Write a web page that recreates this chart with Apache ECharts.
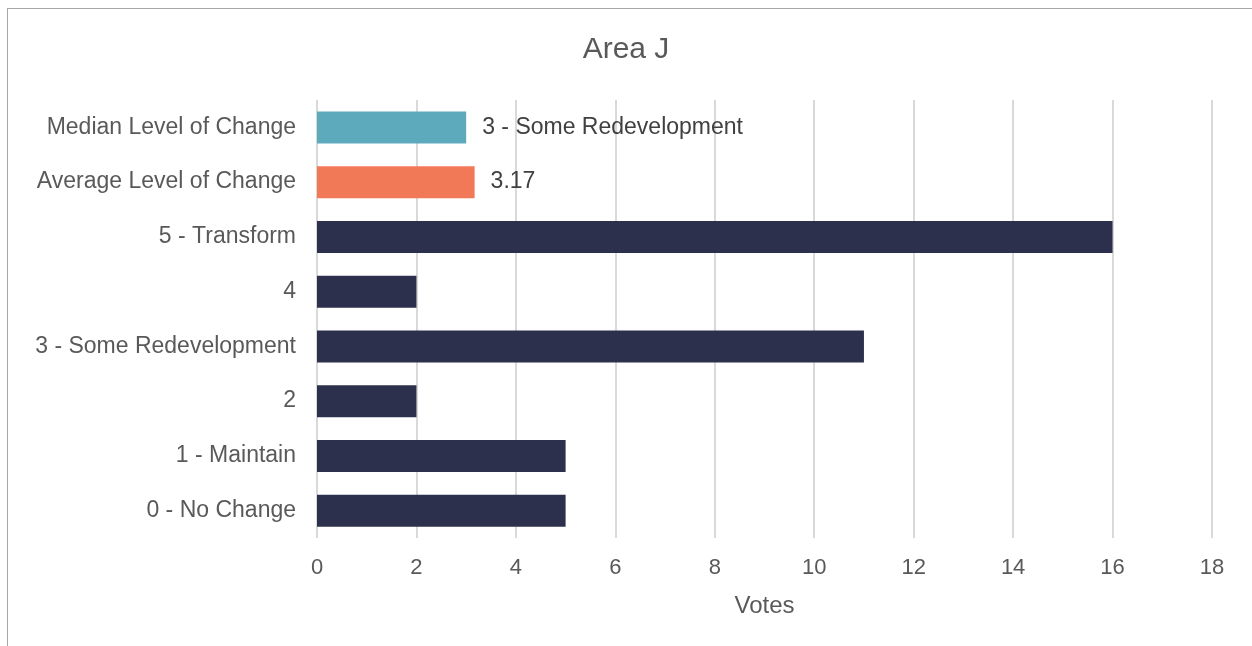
<!DOCTYPE html>
<html>
<head>
<meta charset="utf-8">
<title>Area J</title>
<script src="https://cdn.jsdelivr.net/npm/echarts@6/dist/echarts.min.js"></script>
<style>
  html, body { margin: 0; padding: 0; background: #fff; overflow: hidden; }
  #frame {
    position: absolute; left: 7px; top: 8px; width: 1270px; height: 670px;
    border: 1px solid #a6a6a6; box-sizing: border-box;
  }
  #chart { position: absolute; left: 0; top: 0; width: 1252px; height: 646px; }
</style>
</head>
<body>
<div id="frame"></div>
<div id="chart"></div>
<script>
// categories listed top to bottom
const categories = [
  "Median Level of Change",
  "Average Level of Change",
  "5 - Transform",
  "4",
  "3 - Some Redevelopment",
  "2",
  "1 - Maintain",
  "0 - No Change"
];
const votes = [3, 3.17, 16, 2, 11, 2, 5, 5];
const barLabels = ["3 - Some Redevelopment", "3.17", "", "", "", "", "", ""];
const barColors = ["#5eaabd", "#f27957", "#2c304d", "#2c304d", "#2c304d", "#2c304d", "#2c304d", "#2c304d"];

const FONT = "Liberation Sans, Arial, sans-serif";
const TEXT = "#595959";

const chart = echarts.init(document.getElementById("chart"), null, { renderer: "canvas" });

chart.setOption({
  animation: false,
  title: {
    text: "Area J",
    left: "center",
    top: 30,
    textStyle: { fontFamily: FONT, fontSize: 30, fontWeight: "normal", color: TEXT }
  },
  grid: { left: 317, right: 40, top: 100, bottom: 108, containLabel: false },
  xAxis: {
    type: "value",
    min: 0,
    max: 18,
    interval: 2,
    name: "Votes",
    nameLocation: "middle",
    nameGap: 56,
    nameTextStyle: { fontFamily: FONT, fontSize: 24, color: TEXT },
    axisLine: { show: false },
    axisTick: { show: false },
    axisLabel: { fontFamily: FONT, fontSize: 22, color: TEXT, margin: 19 },
    splitLine: { show: true, lineStyle: { color: "#d9d9d9", width: 2 } }
  },
  yAxis: {
    type: "category",
    data: categories,
    inverse: true,
    axisLine: { show: false },
    axisTick: { show: false },
    axisLabel: { fontFamily: FONT, fontSize: 23, color: TEXT, margin: 21 }
  },
  series: [{
    type: "bar",
    barWidth: 32,
    data: votes.map((v, i) => ({
      value: v,
      itemStyle: { color: barColors[i] },
      label: {
        show: barLabels[i] !== "",
        position: "right",
        distance: 16,
        formatter: barLabels[i],
        fontFamily: FONT,
        fontSize: 23,
        color: "#404040"
      }
    }))
  }]
});
</script>
</body>
</html>
